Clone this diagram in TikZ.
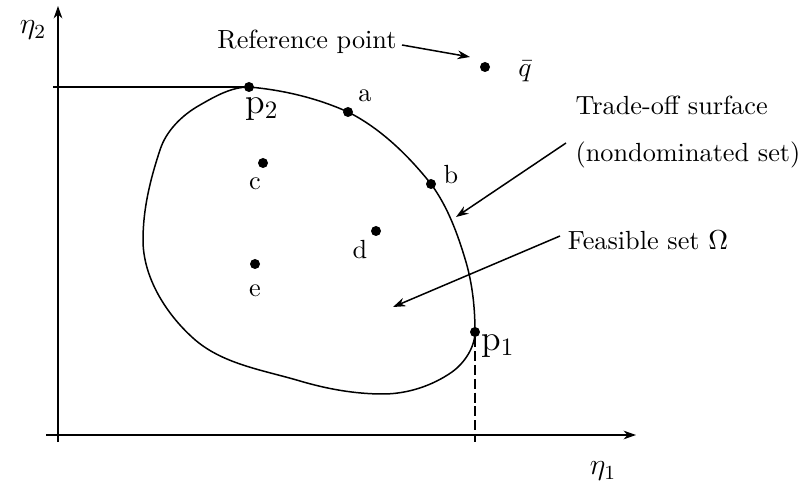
\documentclass[tikz,border=0pt]{standalone}
\usetikzlibrary{arrows.meta}
\begin{document}
\begin{tikzpicture}[x=0.4pt,y=-0.4pt,
  dot/.style={circle,fill=black,inner sep=0pt,minimum size=4pt},
  lbl/.style={inner sep=1pt,font=\fontsize{10.5}{12}\selectfont},
  line/.style={line width=0.6pt},
  arr/.style={line width=0.6pt,-{Stealth[length=5pt,width=3.5pt]}}]
\useasboundingbox (0,0) rectangle (800,485);
% axes
\coordinate (ybot) at (58,442);
\coordinate (ytop) at (58,6);
\coordinate (xleft) at (46,435);
\coordinate (xright) at (636,435);
\draw[arr] (ybot) -- (ytop);
\draw[arr] (xleft) -- (xright);
\node[lbl,font=\large] (eta2) at (33,30) {$\eta_2$};
\node[lbl,font=\large] (eta1) at (603,471) {$\eta_1$};
% feasible set boundary
\draw[line] (249,87) .. controls (283,90) and (317,98) .. (348,112)
  .. controls (380,128) and (408,155) .. (431,184)
  .. controls (448,207) and (458,235) .. (466,262)
  .. controls (472.6,285) and (475,308.5) .. (475,332)
  .. controls (475,347) and (464.6,363) .. (452,372)
  .. controls (432,386) and (407,394) .. (383,394)
  .. controls (355,394) and (327,389) .. (300,381)
  .. controls (263,370) and (221.5,364) .. (193,338)
  .. controls (165.7,313.5) and (143,277) .. (143,240)
  .. controls (143,209.5) and (150,180) .. (160,150)
  .. controls (166,131) and (182,115) .. (200,105)
  .. controls (215.6,96) and (231.6,87) .. (249,87) -- cycle;
% points
\node[dot] (p2) at (249,87) {};
\node[dot] (a) at (348,112) {};
\node[dot] (b) at (431,184) {};
\node[dot] (c) at (263,163) {};
\node[dot] (d) at (376,231) {};
\node[dot] (e) at (255,264) {};
\node[dot] (p1) at (475,332) {};
\node[dot] (q) at (485,67) {};
\coordinate (yp2) at (53,87);
\coordinate (xp1) at (475,442);
\draw[line] (yp2) -- (p2);
\draw[line,dashed,dash pattern=on 4pt off 1.5pt] (p1) -- (xp1);
% labels
\node[lbl,font=\Large] (p2l) at (262,109) {p$_2$};
\node[lbl] (al) at (365,96) {a};
\node[lbl] (bl) at (451,175) {b};
\node[lbl] (cl) at (255,184) {c};
\node[lbl] (dl) at (360,250) {d};
\node[lbl] (el) at (255,291) {e};
\node[lbl,font=\Large] (p1l) at (498,346) {p$_1$};
\node[lbl] (ql) at (525,71) {$\bar q$};
\node[lbl] (ref) at (307,42) {Reference point};
\node[lbl,align=left] (trade) at (688,132) {Trade-off surface\\[7pt](nondominated set)};
\node[lbl] (feas) at (648,240) {Feasible set $\Omega$};
% arrows
\coordinate (refs) at (402,45);
\coordinate (refe) at (470,57);
\draw[arr] (refs) -- (refe);
\coordinate (trs) at (566,143);
\coordinate (tre) at (456,217);
\draw[arr] (trs) -- (tre);
\coordinate (fs) at (560,236);
\coordinate (fe) at (393,307);
\draw[arr] (fs) -- (fe);
\end{tikzpicture}
\end{document}
